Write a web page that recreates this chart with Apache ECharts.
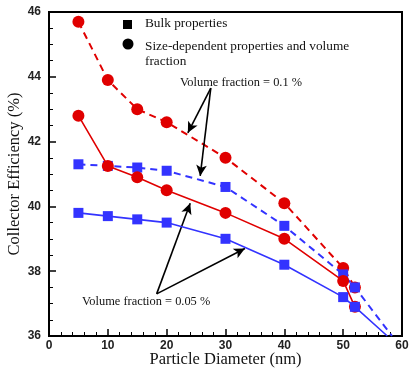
<!DOCTYPE html>
<html>
<head>
<meta charset="utf-8">
<script src="https://cdn.jsdelivr.net/npm/echarts@6/dist/echarts.min.js"></script>
<style>
  html, body { margin: 0; padding: 0; background: #fff; }
  #chart { width: 409px; height: 372px; }
</style>
</head>
<body>
<div id="chart"></div>
<script>
// particle diameters (nm)
const diameters = [5, 10, 15, 20, 30, 40, 50, 52];

// collector efficiency (%)
const sizeDep01 = [45.7, 43.9, 43.0, 42.6, 41.5, 40.1, 38.1, 37.5];
const sizeDep005 = [42.8, 41.25, 40.9, 40.5, 39.8, 39.0, 37.7, 36.9];
const bulk01 = [41.3, 41.25, 41.2, 41.1, 40.6, 39.4, 37.9, 37.5];
const bulk005 = [39.8, 39.7, 39.6, 39.5, 39.0, 38.2, 37.2, 36.9];

// where the bulk lines leave the plot at the bottom
const bulk01Exit = [58.3, 36.0];
const bulk005Exit = [57.5, 36.0];

// annotation arrows: [from, to] in data units
const arrows01 = [[[27.5, 43.65], [23.6, 42.27]], [[27.5, 43.65], [25.7, 40.94]]];
const arrows005 = [[[18.3, 37.3], [24.0, 40.1]], [[18.3, 37.3], [33.3, 38.7]]];

const RED = "#e00000";
const BLUE = "#3333ff";
const serif = "Liberation Serif";

function pts(ys, exit) {
  const d = diameters.map((x, i) => [x, ys[i]]);
  if (exit) d.push({ value: exit, symbol: "none" });
  return d;
}

function arrowLines(list) {
  return list.map(([a, b]) => [
    { coord: a, symbol: "none" },
    { coord: b, symbol: "arrow" },
  ]);
}

const chart = echarts.init(document.getElementById("chart"));

const option = {
  animation: false,
  grid: {
    left: 49, right: 7, top: 12, bottom: 36,
    outerBoundsMode: "none",
    containLabel: false,
    show: true, borderColor: "#000", borderWidth: 2,
  },
  xAxis: {
    type: "value",
    min: 0, max: 60, interval: 10,
    name: "Particle Diameter (nm)",
    nameLocation: "middle",
    nameGap: 15,
    nameMoveOverlap: false,
    nameTextStyle: { fontFamily: serif, fontSize: 16.5, color: "#111" },
    axisLine: { lineStyle: { color: "#000", width: 2 } },
    axisTick: { inside: true, length: 7, lineStyle: { color: "#000", width: 1.5 } },
    minorTick: { show: true, splitNumber: 5, length: 4, lineStyle: { color: "#000", width: 1 } },
    axisLabel: { fontFamily: "Liberation Sans", fontWeight: "bold", fontSize: 12, color: "#222", margin: 4 },
    splitLine: { show: false },
  },
  yAxis: {
    type: "value",
    min: 36, max: 46, interval: 2,
    name: "Collector Efficiency (%)",
    nameLocation: "middle",
    nameGap: 26,
    nameMoveOverlap: false,
    nameTextStyle: { fontFamily: serif, fontSize: 16.5, color: "#111" },
    axisLine: { lineStyle: { color: "#000", width: 2 } },
    axisTick: { inside: true, length: 7, lineStyle: { color: "#000", width: 1.5 } },
    minorTick: { show: true, splitNumber: 4, length: 4, lineStyle: { color: "#000", width: 1 } },
    axisLabel: { fontFamily: "Liberation Sans", fontWeight: "bold", fontSize: 12, color: "#222", margin: 8 },
    splitLine: { show: false },
  },
  series: [
    {
      type: "line", data: pts(sizeDep01), symbol: "circle", symbolSize: 12,
      lineStyle: { color: RED, width: 2, type: [7, 5] }, itemStyle: { color: RED },
      z: 2,
    },
    {
      type: "line", data: pts(bulk01, bulk01Exit), symbol: "rect", symbolSize: 10,
      lineStyle: { color: BLUE, width: 2, type: [7, 5] }, itemStyle: { color: BLUE },
      z: 3,
    },
    {
      type: "line", data: pts(sizeDep005), symbol: "circle", symbolSize: 12,
      lineStyle: { color: RED, width: 1.6 }, itemStyle: { color: RED },
      z: 4,
    },
    {
      type: "line", data: pts(bulk005, bulk005Exit), symbol: "rect", symbolSize: 10,
      lineStyle: { color: BLUE, width: 1.6 }, itemStyle: { color: BLUE },
      z: 5,
    },
    {
      type: "line", data: [], z: 6,
      markLine: {
        silent: true,
        symbolSize: [8, 11],
        label: { show: false },
        lineStyle: { color: "#000", width: 1.6, type: "solid" },
        data: arrowLines(arrows01.concat(arrows005)),
      },
    },
  ],
  graphic: [
    { type: "rect", shape: { x: 123, y: 20, width: 9, height: 9 }, style: { fill: "#000" } },
    { type: "circle", shape: { cx: 128, cy: 44, r: 5.5 }, style: { fill: "#000" } },
    { type: "text", left: 145, top: 17, style: { text: "Bulk properties", font: "13.3px " + serif, fill: "#111" } },
    {
      type: "text", left: 145, top: 39,
      style: { text: "Size-dependent properties and volume\nfraction", font: "13.3px " + serif, lineHeight: 15, fill: "#111" },
    },
    { type: "text", left: 180, top: 77, style: { text: "Volume fraction = 0.1 %", font: "12.4px " + serif, fill: "#111" } },
    { type: "text", left: 82, top: 296, style: { text: "Volume fraction = 0.05 %", font: "12.4px " + serif, fill: "#111" } },
  ],
};

chart.setOption(option);
</script>
</body>
</html>
